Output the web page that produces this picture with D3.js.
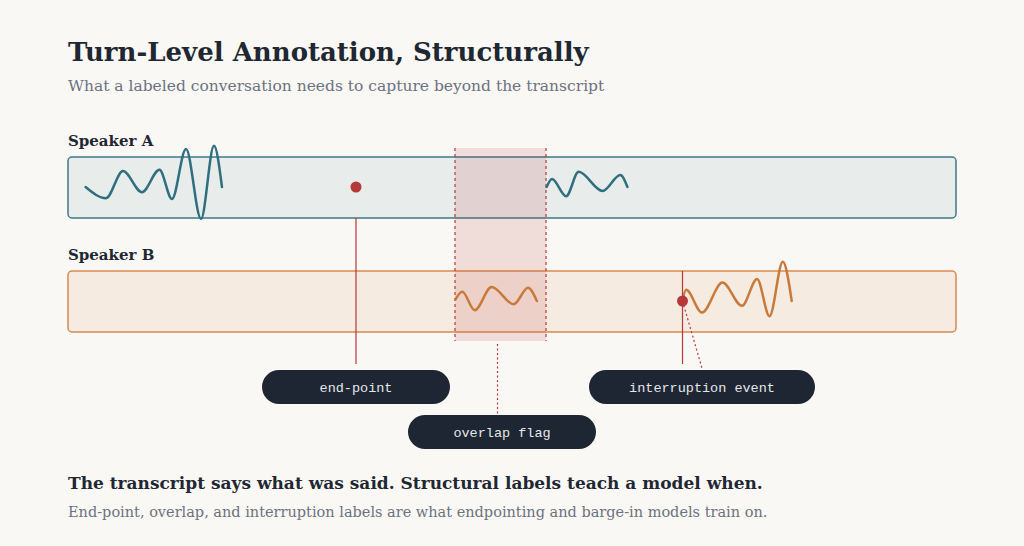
<!DOCTYPE html>
<html><head><meta charset="utf-8">
<script src="https://cdn.jsdelivr.net/npm/d3@7"></script>
<style>body{margin:0;background:#faf8f4}</style></head>
<body><svg id="c" width="1024" height="546"></svg>
<script>
const speakers = ["Speaker A","Speaker B"];
const waveA1 = [[0.198,0],[0.428,-0.28],[0.619,0.4],[0.833,-0.13],[1.03,0.43],[1.171,-0.3],[1.329,0.95],[1.498,-0.8],[1.644,1.03],[1.734,0]];
const waveA2 = [[5.39,0],[5.45,0.2],[5.61,-0.23],[5.75,0.38],[6.02,-0.1],[6.22,0.3],[6.30,0]];
const waveB1 = [[4.36,0.03],[4.44,0.23],[4.58,-0.23],[4.77,0.35],[5.02,-0.08],[5.18,0.33],[5.28,0]];
const waveB2 = [[6.92,0],[6.96,0.28],[7.14,-0.29],[7.37,0.46],[7.59,-0.12],[7.76,0.55],[7.90,-0.38],[8.05,0.98],[8.15,0]];
const endPoint = 3.243;
const overlap = [4.358, 5.383];
const interruption = 6.92;
const labels = ["end-point","overlap flag","interruption event"];

const svg = d3.select("#c");
const x = d3.scaleLinear().domain([0,10]).range([68,956]);
const lanes = [{name:speakers[0],top:157,stroke:"#3d7a88",fill:"#e8ecea",wave:"#2f6f7e",waves:[waveA1,waveA2]},
               {name:speakers[1],top:271,stroke:"#d98a4e",fill:"#f6ebe0",wave:"#c87a3a",waves:[waveB1,waveB2]}];
const H=61;
svg.append("text").attr("x",68).attr("y",61).text("Turn-Level Annotation, Structurally")
 .attr("font-family","Georgia,'DejaVu Serif',serif").attr("font-weight","bold").attr("font-size",26).attr("fill","#1f2733");
svg.append("text").attr("x",68).attr("y",91).text("What a labeled conversation needs to capture beyond the transcript")
 .attr("font-family","Georgia,'DejaVu Serif',serif").attr("font-size",15.5).attr("fill","#6b7280");
const red="#b5393a";
lanes.forEach(l=>{
  svg.append("text").attr("x",68).attr("y",l.top-11).text(l.name).attr("font-family","Georgia,'DejaVu Serif',serif")
   .attr("font-weight","bold").attr("font-size",15).attr("fill","#1f2733");
  svg.append("rect").attr("x",x(0)).attr("y",l.top).attr("width",x(10)-x(0)).attr("height",H).attr("rx",4)
   .attr("fill",l.fill).attr("stroke",l.stroke).attr("stroke-width",1.5);
});
// overlap band
svg.append("rect").attr("x",x(overlap[0])).attr("y",148).attr("width",x(overlap[1])-x(overlap[0])).attr("height",193)
 .attr("fill",red).attr("fill-opacity",0.14);
overlap.forEach(o=>svg.append("line").attr("x1",x(o)).attr("x2",x(o)).attr("y1",148).attr("y2",341)
 .attr("stroke",red).attr("stroke-width",1.2).attr("stroke-dasharray","3,3"));
lanes.forEach(l=>{
  const cy=l.top+30;
  const line=d3.line().x(d=>x(d[0])).y(d=>cy-d[1]*40).curve(d3.curveMonotoneX);
  l.waves.forEach(w=>svg.append("path").attr("d",line(w)).attr("fill","none").attr("stroke",l.wave).attr("stroke-width",2.5).attr("stroke-linecap","round"));
});
// endpoint
svg.append("line").attr("x1",x(endPoint)).attr("x2",x(endPoint)).attr("y1",218).attr("y2",364).attr("stroke",red).attr("stroke-width",1.2);
svg.append("circle").attr("cx",x(endPoint)).attr("cy",187).attr("r",5.5).attr("fill",red);
// interruption
svg.append("line").attr("x1",x(interruption)).attr("x2",x(interruption)).attr("y1",271).attr("y2",364).attr("stroke",red).attr("stroke-width",1.2);
svg.append("line").attr("x1",x(interruption)).attr("x2",x(interruption)+20).attr("y1",301).attr("y2",370).attr("stroke",red).attr("stroke-width",1.2).attr("stroke-dasharray","2,2.5");
svg.append("circle").attr("cx",x(interruption)).attr("cy",301).attr("r",5.5).attr("fill",red);
// overlap pointer
const om=(overlap[0]+overlap[1])/2;
svg.append("line").attr("x1",x(om)-3).attr("x2",x(om)-3).attr("y1",344).attr("y2",414).attr("stroke",red).attr("stroke-width",1.2).attr("stroke-dasharray","2,2.5");
// pills
const pills=[{t:labels[0],cx:356,y:370,w:188},{t:labels[1],cx:502,y:415,w:188},{t:labels[2],cx:702,y:370,w:226}];
pills.forEach(p=>{
  svg.append("rect").attr("x",p.cx-p.w/2).attr("y",p.y).attr("width",p.w).attr("height",34).attr("rx",17).attr("fill","#1e2633");
  svg.append("text").attr("x",p.cx).attr("y",p.y+22).attr("text-anchor","middle").text(p.t)
   .attr("font-family","'Liberation Mono','DejaVu Sans Mono',monospace").attr("font-size",13.5).attr("fill","#e5e7eb");
});
svg.append("text").attr("x",68).attr("y",489).text("The transcript says what was said. Structural labels teach a model when.")
 .attr("font-family","Georgia,'DejaVu Serif',serif").attr("font-weight","bold").attr("font-size",17).attr("fill","#1f2733");
svg.append("text").attr("x",68).attr("y",517).text("End-point, overlap, and interruption labels are what endpointing and barge-in models train on.")
 .attr("font-family","Georgia,'DejaVu Serif',serif").attr("font-size",14.5).attr("fill","#6b7280");
</script></body></html>
